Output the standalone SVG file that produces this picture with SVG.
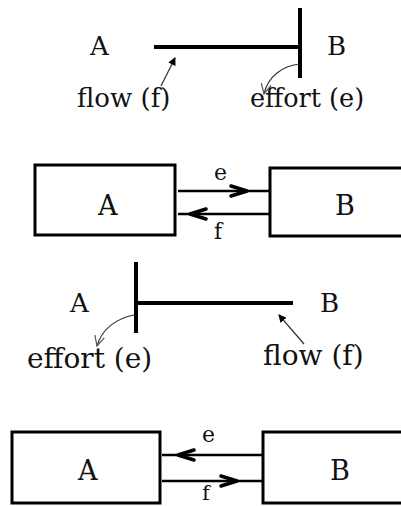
<svg xmlns="http://www.w3.org/2000/svg" width="401" height="506" viewBox="0 0 401 506">
<style>
text{font-family:"DejaVu Serif","Liberation Serif",serif;fill:#111}
.bond{stroke:#000;stroke-width:4;fill:none}
.box{stroke:#000;stroke-width:3;fill:#fff}
.sig{stroke:#000;stroke-width:2.5;fill:none}
.chev{stroke:#000;stroke-width:3.5;fill:none;stroke-linecap:round;stroke-linejoin:round}
.thin{stroke:#333;stroke-width:1.2;fill:none}
</style>
<defs>
<marker id="tri" markerWidth="8" markerHeight="8" refX="7" refY="4" orient="auto" markerUnits="userSpaceOnUse"><path d="M0,0 L8,4 L0,8 Z" fill="#000"/></marker>
<marker id="vee" markerWidth="12" markerHeight="12" refX="10" refY="6" orient="auto" markerUnits="userSpaceOnUse"><path d="M0,1 L10,6 L0,11" fill="none" stroke="#555" stroke-width="1.2"/></marker>
</defs>
<rect width="401" height="506" fill="#fff"/>
<g id="panel1">
<g id="p1-A"><text x="90" y="55" font-size="26">A</text></g>
<g id="p1-B"><text x="327" y="55" font-size="26">B</text></g>
<g id="p1-flow"><text x="77" y="107" font-size="26">flow (f)</text></g>
<g id="p1-effort"><text x="250" y="107" font-size="25.5">effort (e)</text></g>
</g>
<g id="panel2">
<g id="p2-A"><rect class="box" x="35" y="165" width="140" height="70"/><text x="98" y="215" font-size="27">A</text></g>
<g id="p2-B"><rect class="box" x="270" y="168" width="140" height="68"/><text x="335" y="215" font-size="27">B</text></g>
<g id="p2-e"><text x="214" y="180" font-size="22">e</text></g>
<g id="p2-f"><text x="214" y="239" font-size="22">f</text></g>
</g>
<g id="panel3">
<g id="p3-A"><text x="70" y="312" font-size="26">A</text></g>
<g id="p3-B"><text x="320" y="312" font-size="26">B</text></g>
<g id="p3-effort"><text x="27" y="368" font-size="28">effort (e)</text></g>
<g id="p3-flow"><text x="263" y="365" font-size="28">flow (f)</text></g>
</g>
<g id="panel4">
<g id="p4-A"><rect class="box" x="12" y="432" width="148" height="71"/><text x="78" y="480" font-size="27">A</text></g>
<g id="p4-B"><rect class="box" x="263" y="432" width="150" height="71"/><text x="330" y="480" font-size="27">B</text></g>
<g id="p4-e"><text x="202" y="442" font-size="22">e</text></g>
<g id="p4-f"><text x="202" y="500" font-size="21">f</text></g>
</g>
<g id="connectors">
<line class="bond" x1="154" y1="47" x2="300" y2="47"/>
<line class="bond" x1="300" y1="8" x2="300" y2="78"/>
<line class="thin" x1="161" y1="86" x2="175" y2="58" marker-end="url(#tri)"/>
<path class="thin" d="M299,64 C283,66 268,76 264,94" marker-end="url(#vee)"/>
<line class="sig" x1="178" y1="191" x2="270" y2="191"/>
<path class="chev" d="M231,186 L247,191 L231,196"/>
<line class="sig" x1="178" y1="214" x2="270" y2="214"/>
<path class="chev" d="M206,209 L190,214 L206,219"/>
<line class="bond" x1="136" y1="262" x2="136" y2="333"/>
<line class="bond" x1="136" y1="303" x2="293" y2="303"/>
<path class="thin" d="M134,315 C118,318 102,328 97,346" marker-end="url(#vee)"/>
<line class="thin" x1="304" y1="344" x2="279" y2="315" marker-end="url(#tri)"/>
<line class="sig" x1="162" y1="455" x2="263" y2="455"/>
<path class="chev" d="M194,450 L178,455 L194,460"/>
<line class="sig" x1="162" y1="481" x2="263" y2="481"/>
<path class="chev" d="M221,476 L237,481 L221,486"/>
</g>
</svg>
